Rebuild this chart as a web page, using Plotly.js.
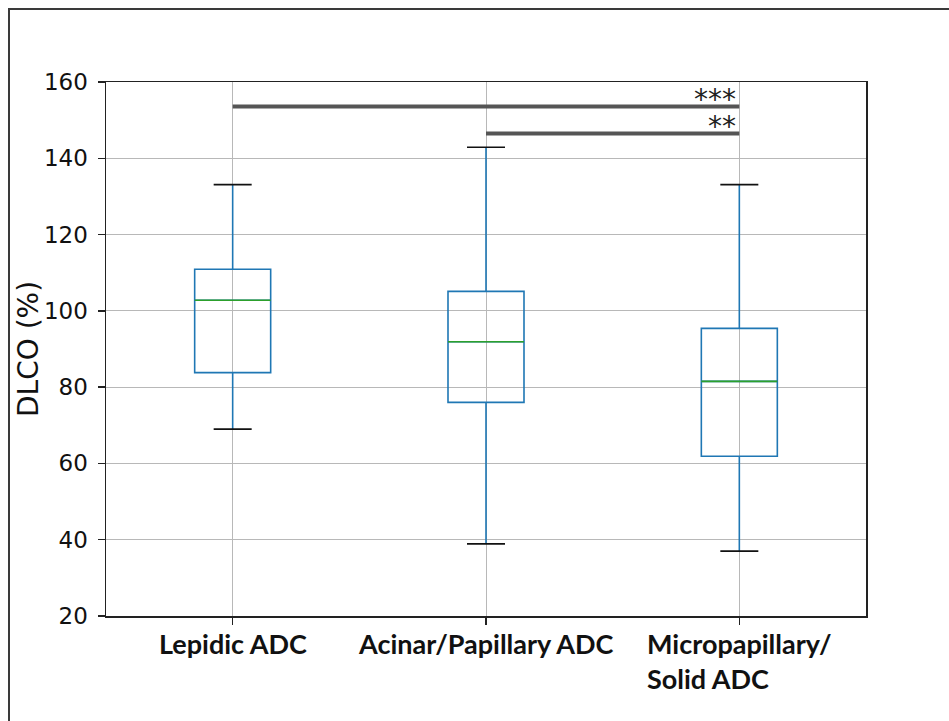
<!DOCTYPE html>
<html>
<head>
<meta charset="utf-8">
<script src="https://cdn.plot.ly/plotly-3.0.1.min.js"></script>
<style>
  html, body { margin: 0; padding: 0; background: #fff; }
  #wrap { position: relative; width: 949px; height: 721px; overflow: hidden; }
  #chart { position: absolute; left: 0; top: 0; width: 949px; height: 721px; }
  #frame { position: absolute; left: 8px; top: 8px; width: 960px; height: 740px;
           border-top: 2px solid #3a3a3a; border-left: 2px solid #3a3a3a; pointer-events: none; }
</style>
</head>
<body>
<div id="wrap">
  <div id="chart"></div>
  <div id="frame"></div>
</div>
<script>
// ---- data ----
const categories = ["Lepidic ADC", "Acinar/Papillary ADC", "Micropapillary/<br>Solid ADC"];
const lowerWhisker = [69.0, 38.9, 37.0];
const q1Values = [83.8, 76.0, 61.9];
const medianValues = [102.8, 91.9, 81.5];
const q3Values = [110.9, 105.1, 95.4];
const upperWhisker = [133.1, 142.9, 133.1];

const sigFrom = [0, 1];
const sigTo = [2, 2];
const sigLevel = [153.6, 146.5];
const sigLabels = ["***", "**"];

const yTicks = [20, 40, 60, 80, 100, 120, 140, 160];

// ---- build traces ----
const pos = categories.map((c, i) => i);
const boxHalf = 0.15;
const capHalf = 0.075;

const boxTrace = {
  type: 'box',
  x: pos,
  q1: q1Values,
  median: medianValues,
  q3: q3Values,
  lowerfence: lowerWhisker,
  upperfence: upperWhisker,
  width: 0.3,
  whiskerwidth: 0,
  boxpoints: false,
  line: { color: '#1f77b4', width: 1.6 },
  fillcolor: 'rgba(0,0,0,0)',
  hoverinfo: 'skip',
  showlegend: false
};

const medX = [], medY = [], capX = [], capY = [];
pos.forEach((p, i) => {
  medX.push(p - boxHalf, p + boxHalf, null);
  medY.push(medianValues[i], medianValues[i], null);
  capX.push(p - capHalf, p + capHalf, null, p - capHalf, p + capHalf, null);
  capY.push(lowerWhisker[i], lowerWhisker[i], null, upperWhisker[i], upperWhisker[i], null);
});

const medianTrace = {
  type: 'scatter', mode: 'lines', x: medX, y: medY,
  line: { color: '#2ca02c', width: 1.6 }, hoverinfo: 'skip', showlegend: false
};
const capTrace = {
  type: 'scatter', mode: 'lines', x: capX, y: capY,
  line: { color: '#111111', width: 1.6 }, hoverinfo: 'skip', showlegend: false
};

const sigX = [], sigY = [];
sigFrom.forEach((f, i) => {
  sigX.push(f, sigTo[i], null);
  sigY.push(sigLevel[i], sigLevel[i], null);
});
const sigTrace = {
  type: 'scatter', mode: 'lines', x: sigX, y: sigY,
  line: { color: '#555555', width: 4 }, hoverinfo: 'skip', showlegend: false
};

// ---- annotations ----
const annotations = [];
categories.forEach((c, i) => {
  annotations.push({
    x: i, xref: 'x', y: 0, yref: 'paper',
    yshift: -9, yanchor: 'top', xanchor: 'center', align: 'left',
    text: c, showarrow: false,
    font: { family: 'Lato', size: 27, color: '#111111', weight: 'bold' }
  });
});
sigLabels.forEach((s, i) => {
  annotations.push({
    x: sigTo[i], xref: 'x', y: sigLevel[i], yref: 'y',
    xanchor: 'right', yanchor: 'bottom', yshift: -12, xshift: -1,
    text: s, showarrow: false,
    font: { family: 'DejaVu Sans', size: 28, color: '#222222' }
  });
});
annotations.push({
  x: -0.1026, xref: 'paper', y: 0.5, yref: 'paper',
  xanchor: 'center', yanchor: 'middle', textangle: -90,
  text: 'DLCO (%)', showarrow: false,
  font: { family: 'DejaVu Sans', size: 28, color: '#111111' }
});

const layout = {
  width: 949, height: 721,
  margin: { l: 106, r: 83, t: 82, b: 105 },
  paper_bgcolor: '#ffffff', plot_bgcolor: '#ffffff',
  font: { family: 'DejaVu Sans', color: '#111111' },
  showlegend: false,
  xaxis: {
    type: 'linear', range: [-0.5, 2.5],
    tickvals: pos, showticklabels: false,
    ticks: 'outside', ticklen: 7, tickwidth: 1.5, tickcolor: '#222222',
    showgrid: true, gridcolor: '#b8b8b8', gridwidth: 1,
    zeroline: false, showline: true, mirror: true, linecolor: '#222222', linewidth: 1.5,
    fixedrange: true
  },
  yaxis: {
    range: [20, 160], tickvals: yTicks,
    ticks: 'outside', ticklen: 7, tickwidth: 1.5, tickcolor: '#222222',
    tickfont: { family: 'DejaVu Sans', size: 23, color: '#111111' },
    ticklabelstandoff: 5,
    showgrid: true, gridcolor: '#b8b8b8', gridwidth: 1,
    zeroline: false, showline: true, mirror: true, linecolor: '#222222', linewidth: 1.5,
    fixedrange: true
  },
  annotations: annotations
};

Plotly.newPlot('chart', [boxTrace, medianTrace, capTrace, sigTrace], layout,
  { displayModeBar: false, staticPlot: true });
</script>
</body>
</html>
